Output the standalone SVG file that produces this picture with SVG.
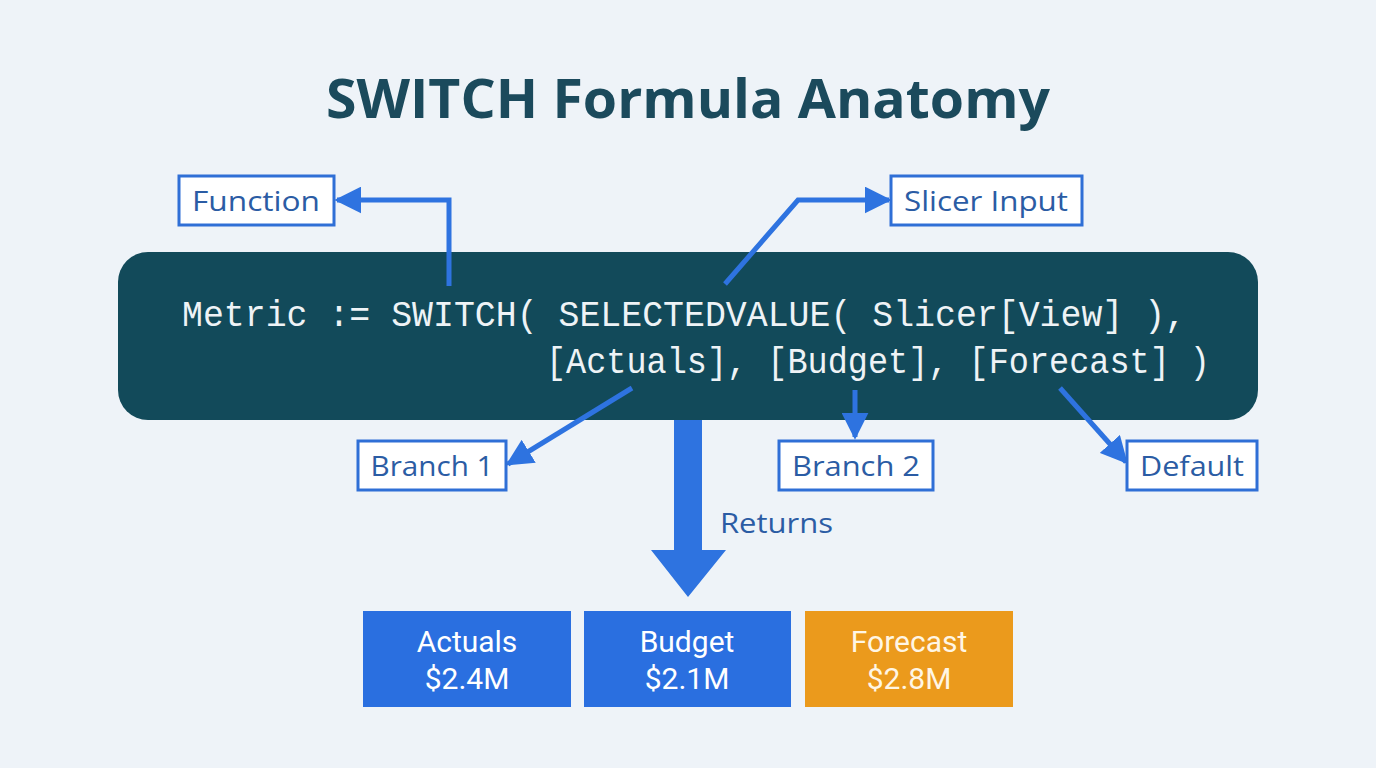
<svg xmlns="http://www.w3.org/2000/svg" width="1376" height="768" viewBox="0 0 1376 768">
<style>
.title{font-family:"Open Sans","Liberation Sans",sans-serif;font-weight:700;font-size:54px;fill:#1b4a5c}
.code{font-family:"Liberation Mono","DejaVu Sans Mono",monospace;font-size:36px;fill:#eef3f6}
.lbox{fill:#ffffff;stroke:#2f6fd6;stroke-width:3}
.ltxt{font-family:"Open Sans","Liberation Sans",sans-serif;font-size:28px;fill:#2b5ca4;text-anchor:middle}
.conn{fill:none;stroke:#2e73e0;stroke-width:5;stroke-linejoin:miter}
.res{font-family:Roboto,"Liberation Sans",sans-serif;font-size:30px;fill:#ffffff;text-anchor:middle}
</style>
<defs>
<marker id="ah" viewBox="0 0 10 10" refX="9" refY="5" markerWidth="5.4" markerHeight="5.4" orient="auto" markerUnits="strokeWidth">
<path d="M0,0 L10,5 L0,10 Z" fill="#2e73e0"/>
</marker>
</defs>
<rect width="1376" height="768" fill="#eef3f8"/>
<text class="title" x="688" y="118" text-anchor="middle" textLength="724" lengthAdjust="spacingAndGlyphs">SWITCH Formula Anatomy</text>

<g id="code">
<rect x="118" y="252" width="1140" height="168" rx="30" fill="#124a5a"/>
<text class="code" x="182" y="326" textLength="1004" lengthAdjust="spacingAndGlyphs">Metric := SWITCH( SELECTEDVALUE( Slicer[View] ),</text>
<text class="code" x="546" y="373" textLength="664" lengthAdjust="spacingAndGlyphs">[Actuals], [Budget], [Forecast] )</text>
</g>

<g id="connectors">
<polyline class="conn" points="449,286 449,200 337,200" marker-end="url(#ah)"/>
<polyline class="conn" points="725,284 798,200 889,200" marker-end="url(#ah)"/>
<line class="conn" x1="632" y1="388" x2="508" y2="464" marker-end="url(#ah)"/>
<line class="conn" x1="855" y1="390" x2="855" y2="437" marker-end="url(#ah)"/>
<line class="conn" x1="1060" y1="388" x2="1126" y2="462" marker-end="url(#ah)"/>
<path d="M674,420 L702,420 L702,550 L726,550 L688,597 L651,550 L674,550 Z" fill="#2e73e0"/>
<text x="720" y="533" font-family="'Open Sans','Liberation Sans',sans-serif" font-size="27" fill="#2b5ca4" textLength="113" lengthAdjust="spacingAndGlyphs">Returns</text>
</g>

<g id="function">
<rect class="lbox" x="179" y="176" width="155" height="49"/>
<text class="ltxt" x="256" y="211" textLength="128" lengthAdjust="spacingAndGlyphs">Function</text>
</g>
<g id="slicer-input">
<rect class="lbox" x="891" y="176" width="191" height="49"/>
<text class="ltxt" x="986" y="211" textLength="164" lengthAdjust="spacingAndGlyphs">Slicer Input</text>
</g>
<g id="branch1">
<rect class="lbox" x="358" y="441" width="148" height="49"/>
<text class="ltxt" x="432" y="476" textLength="123" lengthAdjust="spacingAndGlyphs">Branch 1</text>
</g>
<g id="branch2">
<rect class="lbox" x="779" y="441" width="154" height="49"/>
<text class="ltxt" x="856" y="476" textLength="128" lengthAdjust="spacingAndGlyphs">Branch 2</text>
</g>
<g id="default">
<rect class="lbox" x="1127" y="441" width="130" height="49"/>
<text class="ltxt" x="1192" y="476" textLength="104" lengthAdjust="spacingAndGlyphs">Default</text>
</g>

<g id="actuals">
<rect x="363" y="611" width="208" height="96" fill="#2a6fe0"/>
<text class="res" x="467" y="652">Actuals</text>
<text class="res" x="467" y="689">$2.4M</text>
</g>
<g id="budget">
<rect x="584" y="611" width="207" height="96" fill="#2a6fe0"/>
<text class="res" x="687" y="652">Budget</text>
<text class="res" x="687" y="689">$2.1M</text>
</g>
<g id="forecast">
<rect x="805" y="611" width="208" height="96" fill="#eb9a1c"/>
<text class="res" x="909" y="652" style="fill:#fff6e4">Forecast</text>
<text class="res" x="909" y="689" style="fill:#fff6e4">$2.8M</text>
</g>
</svg>
